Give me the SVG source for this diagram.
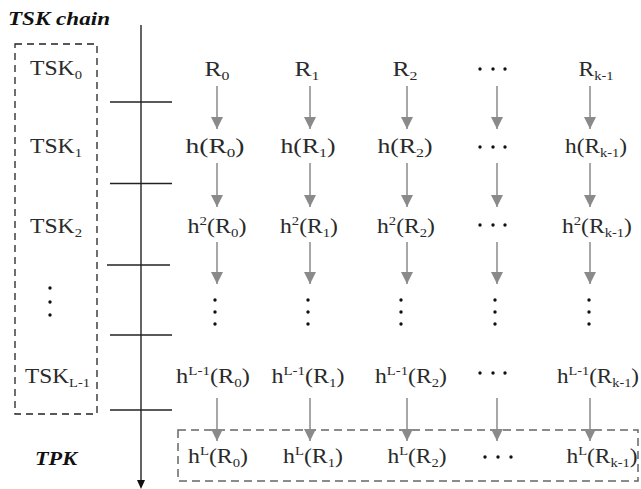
<svg xmlns="http://www.w3.org/2000/svg" width="641" height="489" viewBox="0 0 641 489">
  <style>
    .t { font-family: "Liberation Serif", "Times New Roman", serif; font-size: 21px; fill: #2a2a2a; text-anchor: middle; }
    .s { font-size: 13px; }
    .h { font-family: "Liberation Serif", "Times New Roman", serif; font-size: 19px; font-weight: bold; font-style: italic; fill: #111; }
    .arr { stroke: #8a8a8a; stroke-width: 1.5; fill: none; marker-end: url(#ga); }
    .tick { stroke: #222; stroke-width: 1.3; }
    .dot { fill: #111; }
  </style>
  <defs>
    <marker id="ga" viewBox="0 0 12 12" refX="12" refY="6" markerWidth="12" markerHeight="12" markerUnits="userSpaceOnUse" orient="auto">
      <path d="M0,0 L12,6 L0,12 Z" fill="#8a8a8a"/>
    </marker>
  </defs>

  <rect width="641" height="489" fill="#fff"/>

  <!-- headings -->
  <text class="h" x="8" y="25" textLength="102" lengthAdjust="spacingAndGlyphs">TSK chain</text>
  <text class="h" x="35" y="465" textLength="42" lengthAdjust="spacingAndGlyphs">TPK</text>

  <!-- time axis with ticks -->
  <g id="axis">
    <line x1="141" y1="25" x2="141" y2="481" stroke="#111" stroke-width="1.3"/>
    <path d="M137,480 L145,480 L141,489 Z" fill="#111"/>
    <line class="tick" x1="110" y1="102" x2="172" y2="102"/>
    <line class="tick" x1="110" y1="183.5" x2="172" y2="183.5"/>
    <line class="tick" x1="107" y1="265" x2="170" y2="265"/>
    <line class="tick" x1="110" y1="335" x2="172" y2="335"/>
    <line class="tick" x1="110" y1="410" x2="172" y2="410"/>
  </g>

  <!-- secret key chain -->
  <g id="tsk-chain">
    <rect x="15" y="44" width="82" height="370" fill="none" stroke="#222" stroke-width="1.3" stroke-dasharray="7 5"/>
    <text class="t" x="56" y="75" textLength="52" lengthAdjust="spacingAndGlyphs">TSK<tspan class="s" dy="4">0</tspan></text>
    <text class="t" x="56" y="153" textLength="52" lengthAdjust="spacingAndGlyphs">TSK<tspan class="s" dy="4">1</tspan></text>
    <text class="t" x="56" y="233" textLength="52" lengthAdjust="spacingAndGlyphs">TSK<tspan class="s" dy="4">2</tspan></text>
    <circle class="dot" cx="50" cy="288" r="1.7"/>
    <circle class="dot" cx="50" cy="302" r="1.7"/>
    <circle class="dot" cx="50" cy="315" r="1.7"/>
    <text class="t" x="57.5" y="383" textLength="65" lengthAdjust="spacingAndGlyphs">TSK<tspan class="s" dy="4">L-1</tspan></text>
  </g>

  <!-- public key row -->
  <g id="tpk">
    <rect x="178" y="430" width="460" height="51" fill="none" stroke="#666" stroke-width="1.5" stroke-dasharray="8 5"/>
  </g>

  <!-- hash step arrows -->
  <g id="connectors">
    <line class="arr" x1="217" y1="86" x2="217" y2="129"/>
    <line class="arr" x1="310" y1="86" x2="310" y2="129"/>
    <line class="arr" x1="407" y1="86" x2="407" y2="129"/>
    <line class="arr" x1="497" y1="86" x2="497" y2="129"/>
    <line class="arr" x1="590" y1="86" x2="590" y2="129"/>

    <line class="arr" x1="217" y1="163" x2="217" y2="207"/>
    <line class="arr" x1="310" y1="163" x2="310" y2="207"/>
    <line class="arr" x1="407" y1="163" x2="407" y2="207"/>
    <line class="arr" x1="497" y1="163" x2="497" y2="207"/>
    <line class="arr" x1="590" y1="163" x2="590" y2="207"/>

    <line class="arr" x1="217" y1="242" x2="217" y2="284"/>
    <line class="arr" x1="310" y1="242" x2="310" y2="284"/>
    <line class="arr" x1="407" y1="242" x2="407" y2="284"/>
    <line class="arr" x1="497" y1="242" x2="497" y2="284"/>
    <line class="arr" x1="590" y1="242" x2="590" y2="284"/>

    <line class="arr" x1="217" y1="398" x2="217" y2="441"/>
    <line class="arr" x1="310" y1="398" x2="310" y2="441"/>
    <line class="arr" x1="407" y1="398" x2="407" y2="441"/>
    <line class="arr" x1="497" y1="398" x2="497" y2="441"/>
    <line class="arr" x1="590" y1="398" x2="590" y2="441"/>
  </g>

  <!-- seeds -->
  <g id="row-r">
    <text class="t" x="217" y="76" textLength="25" lengthAdjust="spacingAndGlyphs">R<tspan class="s" dy="4">0</tspan></text>
    <text class="t" x="307" y="76" textLength="25" lengthAdjust="spacingAndGlyphs">R<tspan class="s" dy="4">1</tspan></text>
    <text class="t" x="405" y="76" textLength="25" lengthAdjust="spacingAndGlyphs">R<tspan class="s" dy="4">2</tspan></text>
    <circle class="dot" cx="480" cy="69" r="1.7"/><circle class="dot" cx="493" cy="69" r="1.7"/><circle class="dot" cx="505" cy="69" r="1.7"/>
    <text class="t" x="596" y="76" textLength="35" lengthAdjust="spacingAndGlyphs">R<tspan class="s" dy="4">k-1</tspan></text>
  </g>

  <!-- first hash -->
  <g id="row-h1">
    <text class="t" x="215" y="153" textLength="59" lengthAdjust="spacingAndGlyphs">h(R<tspan class="s" dy="4">0</tspan><tspan dy="-4">)</tspan></text>
    <text class="t" x="308" y="153" textLength="55" lengthAdjust="spacingAndGlyphs">h(R<tspan class="s" dy="4">1</tspan><tspan dy="-4">)</tspan></text>
    <text class="t" x="405" y="153" textLength="55" lengthAdjust="spacingAndGlyphs">h(R<tspan class="s" dy="4">2</tspan><tspan dy="-4">)</tspan></text>
    <circle class="dot" cx="480" cy="147" r="1.7"/><circle class="dot" cx="493" cy="147" r="1.7"/><circle class="dot" cx="505" cy="147" r="1.7"/>
    <text class="t" x="596" y="153" textLength="62" lengthAdjust="spacingAndGlyphs">h(R<tspan class="s" dy="4">k-1</tspan><tspan dy="-4">)</tspan></text>
  </g>

  <!-- second hash -->
  <g id="row-h2">
    <text class="t" x="217" y="233" textLength="59" lengthAdjust="spacingAndGlyphs">h<tspan class="s" dy="-8">2</tspan><tspan dy="8">(R</tspan><tspan class="s" dy="4">0</tspan><tspan dy="-4">)</tspan></text>
    <text class="t" x="309" y="233" textLength="58" lengthAdjust="spacingAndGlyphs">h<tspan class="s" dy="-8">2</tspan><tspan dy="8">(R</tspan><tspan class="s" dy="4">1</tspan><tspan dy="-4">)</tspan></text>
    <text class="t" x="406" y="233" textLength="58" lengthAdjust="spacingAndGlyphs">h<tspan class="s" dy="-8">2</tspan><tspan dy="8">(R</tspan><tspan class="s" dy="4">2</tspan><tspan dy="-4">)</tspan></text>
    <circle class="dot" cx="480" cy="225" r="1.7"/><circle class="dot" cx="493" cy="225" r="1.7"/><circle class="dot" cx="505" cy="225" r="1.7"/>
    <text class="t" x="597" y="233" textLength="70" lengthAdjust="spacingAndGlyphs">h<tspan class="s" dy="-8">2</tspan><tspan dy="8">(R</tspan><tspan class="s" dy="4">k-1</tspan><tspan dy="-4">)</tspan></text>
  </g>

  <!-- elided hashes -->
  <g id="row-gap">
    <circle class="dot" cx="215" cy="300" r="1.7"/><circle class="dot" cx="215" cy="312" r="1.7"/><circle class="dot" cx="215" cy="324" r="1.7"/>
    <circle class="dot" cx="308" cy="300" r="1.7"/><circle class="dot" cx="308" cy="312" r="1.7"/><circle class="dot" cx="308" cy="324" r="1.7"/>
    <circle class="dot" cx="401" cy="300" r="1.7"/><circle class="dot" cx="401" cy="312" r="1.7"/><circle class="dot" cx="401" cy="324" r="1.7"/>
    <circle class="dot" cx="495" cy="300" r="1.7"/><circle class="dot" cx="495" cy="312" r="1.7"/><circle class="dot" cx="495" cy="324" r="1.7"/>
    <circle class="dot" cx="589" cy="300" r="1.7"/><circle class="dot" cx="589" cy="312" r="1.7"/><circle class="dot" cx="589" cy="324" r="1.7"/>
  </g>

  <!-- (L-1)th hash -->
  <g id="row-hl1">
    <text class="t" x="213" y="383" textLength="74" lengthAdjust="spacingAndGlyphs">h<tspan class="s" dy="-8">L-1</tspan><tspan dy="8">(R</tspan><tspan class="s" dy="4">0</tspan><tspan dy="-4">)</tspan></text>
    <text class="t" x="308" y="383" textLength="73" lengthAdjust="spacingAndGlyphs">h<tspan class="s" dy="-8">L-1</tspan><tspan dy="8">(R</tspan><tspan class="s" dy="4">1</tspan><tspan dy="-4">)</tspan></text>
    <text class="t" x="411" y="383" textLength="72" lengthAdjust="spacingAndGlyphs">h<tspan class="s" dy="-8">L-1</tspan><tspan dy="8">(R</tspan><tspan class="s" dy="4">2</tspan><tspan dy="-4">)</tspan></text>
    <circle class="dot" cx="480" cy="373" r="1.7"/><circle class="dot" cx="493" cy="373" r="1.7"/><circle class="dot" cx="505" cy="373" r="1.7"/>
    <text class="t" x="598" y="383" textLength="82" lengthAdjust="spacingAndGlyphs">h<tspan class="s" dy="-8">L-1</tspan><tspan dy="8">(R</tspan><tspan class="s" dy="4">k-1</tspan><tspan dy="-4">)</tspan></text>
  </g>

  <!-- Lth hash: public keys -->
  <g id="row-hl">
    <text class="t" x="218" y="463" textLength="60" lengthAdjust="spacingAndGlyphs">h<tspan class="s" dy="-8">L</tspan><tspan dy="8">(R</tspan><tspan class="s" dy="4">0</tspan><tspan dy="-4">)</tspan></text>
    <text class="t" x="313" y="463" textLength="60" lengthAdjust="spacingAndGlyphs">h<tspan class="s" dy="-8">L</tspan><tspan dy="8">(R</tspan><tspan class="s" dy="4">1</tspan><tspan dy="-4">)</tspan></text>
    <text class="t" x="417" y="463" textLength="59" lengthAdjust="spacingAndGlyphs">h<tspan class="s" dy="-8">L</tspan><tspan dy="8">(R</tspan><tspan class="s" dy="4">2</tspan><tspan dy="-4">)</tspan></text>
    <circle class="dot" cx="485" cy="457" r="1.7"/><circle class="dot" cx="498" cy="457" r="1.7"/><circle class="dot" cx="511" cy="457" r="1.7"/>
    <text class="t" x="602" y="463" textLength="71" lengthAdjust="spacingAndGlyphs">h<tspan class="s" dy="-8">L</tspan><tspan dy="8">(R</tspan><tspan class="s" dy="4">k-1</tspan><tspan dy="-4">)</tspan></text>
  </g>
</svg>
